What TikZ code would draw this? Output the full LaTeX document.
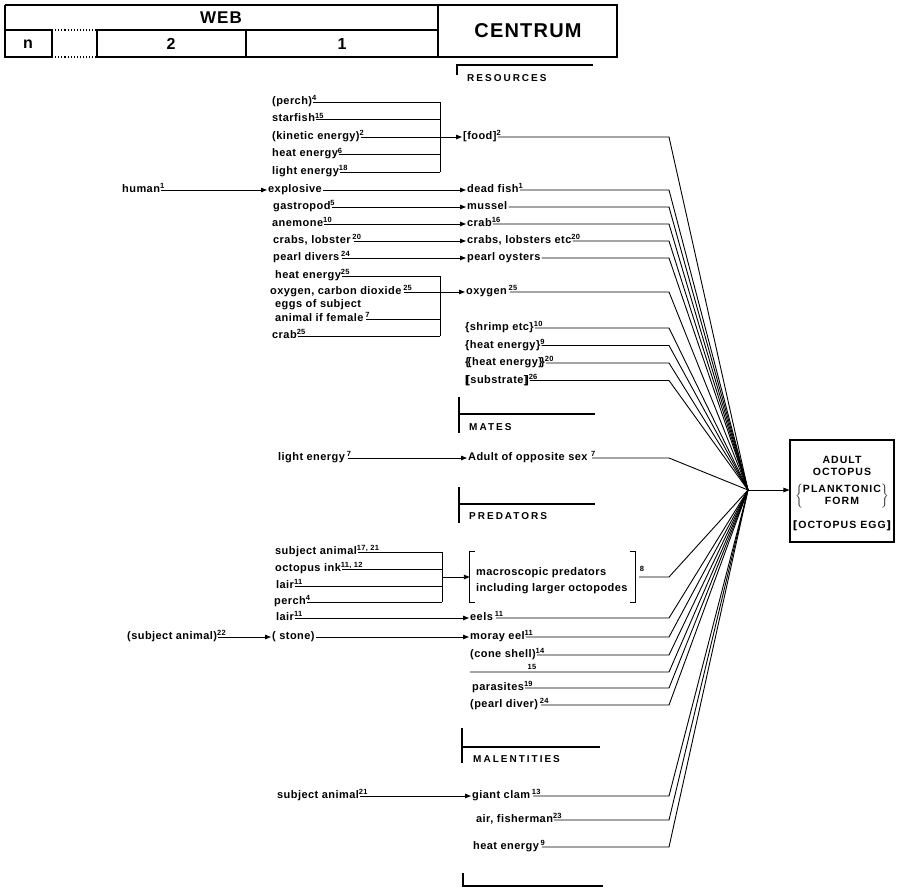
\documentclass[tikz,border=0pt]{standalone}
\usepackage{fontspec}
\setmainfont{Liberation Sans}[LetterSpace=4]
\newfontfamily\capsfont{Liberation Sans}[LetterSpace=20]
\newfontfamily\headfont{Liberation Sans}[LetterSpace=6]
\newfontfamily\boxfont{Liberation Sans}[LetterSpace=10]
\usetikzlibrary{arrows.meta}
\newcommand\sps[1]{\rlap{\raisebox{3.6pt}{\fontsize{7.5}{7.5}\selectfont #1}}}
\begin{document}
\begin{tikzpicture}[x=1pt,y=-1pt,
  lbl/.style={anchor=west, inner sep=1pt, font=\bfseries\fontsize{11}{12}\selectfont, text height=7pt, text depth=2pt},
  capl/.style={anchor=west, inner sep=0pt, font=\capsfont\bfseries\fontsize{10}{11}\selectfont},
  boxt/.style={inner sep=0pt, font=\boxfont\bfseries\fontsize{10.5}{12}\selectfont},
  supn/.style={inner sep=0pt, font=\bfseries\fontsize{7.5}{7.5}\selectfont},
  ln/.style={line width=0.9pt},
  arr/.style={ln,-{Triangle[length=6pt,width=4.5pt]}},
  bar/.style={line width=2pt},
  hd/.style={line width=1.1pt},
  hdtext/.style={font=\headfont\bfseries\fontsize{#1}{#1}\selectfont, inner sep=0pt}
]
\useasboundingbox (0,0) rectangle (898,888);
\fill[white] (0,0) rectangle (898,888);

% ---------- header table ----------
\draw[hd] (5,5) -- (617,5) -- (617,57) -- (97,57);
\draw[hd] (52,57) -- (5,57) -- (5,5);
\draw[hd,dotted] (52,57) -- (97,57);
\draw[hd] (5,30) -- (52,30);
\draw[hd,dotted] (52,30) -- (97,30);
\draw[hd] (97,30) -- (438,30);
\draw[hd] (52,30) -- (52,57);
\draw[hd] (97,30) -- (97,57);
\draw[hd] (246,30) -- (246,57);
\draw[hd] (438,5) -- (438,57);
\node[hdtext=17] (web) at (221,18) {WEB};
\node[hdtext=16] (cn) at (28,44) {n};
\node[hdtext=16] (c2) at (171,44) {2};
\node[hdtext=16] (c1) at (342,44) {1};
\node[hdtext=20] (centrum) at (528,31) {CENTRUM};

% ---------- key coordinates ----------
\coordinate (rx) at (669,0);
\coordinate (hub) at (748,490);
\coordinate (bxA) at (440,0);
\coordinate (bxP) at (442,0);

% ---------- RESOURCES ----------
\draw[bar] (457,75) -- (457,65) -- (593,65);
\node[capl] (res) at (467,78) {RESOURCES};

\node[lbl] (a1) at (271,102) {(perch)\sps{4}};
\node[lbl] (a2) at (271,119.5) {starfish\sps{15}};
\node[lbl] (a3) at (271,137) {(kinetic energy)\sps{2}};
\node[lbl] (a4) at (271,154.5) {heat energy\sps{6}};
\node[lbl] (a5) at (271,172) {light energy\sps{18}};
\foreach \n in {a1,a2,a3,a4,a5} \draw[ln] (\n.east) -- (\n.east -| bxA);
\draw[ln] (a1.east -| bxA) -- (a5.east -| bxA);
\node[lbl] (food) at (462,137) {[food]\sps{2}};
\draw[arr] (a3.east -| bxA) -- (food.west);
\draw[ln] (food.east) -- (food.east -| rx) -- (hub);

\node[lbl] (human) at (121,190) {human\sps{1}};
\node[lbl] (explosive) at (267,190) {explosive};
\node[lbl] (deadfish) at (466,190) {dead fish\sps{1}};
\draw[arr] (human) -- (explosive);
\draw[arr] (explosive) -- (deadfish);
\draw[ln] (deadfish.east) -- (deadfish.east -| rx) -- (hub);

\node[lbl] (gastropod) at (272,207) {gastropod\sps{5}};
\node[lbl] (mussel) at (466,207) {mussel};
\draw[arr] (gastropod) -- (mussel);
\draw[ln] (mussel.east) -- (mussel.east -| rx) -- (hub);

\node[lbl] (anemone) at (271,224) {anemone\sps{10}};
\node[lbl] (crabA) at (466,224) {crab\sps{16}};
\draw[arr] (anemone) -- (crabA);
\draw[ln] (crabA.east) -- (crabA.east -| rx) -- (hub);

\node[lbl] (crabsl) at (272,241) {crabs, lobster\,\sps{20}};
\node[lbl] (crabsetc) at (466,241) {crabs, lobsters etc\sps{20}};
\draw[arr] (crabsl) -- (crabsetc);
\draw[ln] (crabsetc.east) -- (crabsetc.east -| rx) -- (hub);

\node[lbl] (pearld) at (272,258) {pearl divers\,\sps{24}};
\node[lbl] (oysters) at (466,258) {pearl oysters};
\draw[arr] (pearld) -- (oysters);
\draw[ln] (oysters.east) -- (oysters.east -| rx) -- (hub);

\node[lbl] (g1) at (274,276) {heat energy\sps{25}};
\node[lbl] (g2) at (269,292) {oxygen, carbon dioxide\,\sps{25}};
\node[lbl] (g3a) at (274,305) {eggs of subject};
\node[lbl] (g3) at (274,319) {animal if female\,\sps{7}};
\node[lbl] (g4) at (271,336) {crab\sps{25}};
\foreach \n in {g1,g2,g3,g4} \draw[ln] (\n.east) -- (\n.east -| bxA);
\draw[ln] (g1.east -| bxA) -- (g4.east -| bxA);
\node[lbl] (oxygen) at (465,292) {oxygen\,\sps{25}};
\draw[arr] (g2.east -| bxA) -- (oxygen.west);
\draw[ln] (oxygen.east) -- (oxygen.east -| rx) -- (hub);

\node[lbl] (h1) at (464,328) {\{shrimp etc\}\sps{10}};
\node[lbl] (h2) at (464,345.5) {\{heat energy\}\sps{9}};
\node[lbl] (h3) at (464,363) {\{\kern-2pt\{heat energy\}\kern-2pt\}\sps{20}};
\node[lbl] (h4) at (464,380.5) {[\kern-2.5pt[substrate]\kern-2.5pt]\sps{26}};
\foreach \n in {h1,h2,h3,h4} \draw[ln] (\n.east) -- (\n.east -| rx) -- (hub);

% ---------- MATES ----------
\draw[bar] (459,397) -- (459,433);
\draw[bar] (459,414) -- (595,414);
\node[capl] (mates) at (469,427) {MATES};
\node[lbl] (light7) at (277,458) {light energy\,\sps{7}};
\node[lbl] (mate) at (467,458) {Adult of opposite sex\ \sps{7}};
\draw[arr] (light7) -- (mate);
\draw[ln] (mate.east) -- (mate.east -| rx) -- (hub);

% ---------- PREDATORS ----------
\draw[bar] (459,487) -- (459,523);
\draw[bar] (459,504) -- (595,504);
\node[capl] (predators) at (469,516) {PREDATORS};

\node[lbl] (p1) at (274,552) {subject animal\sps{17, 21}};
\node[lbl] (p2) at (274,569) {octopus ink\sps{11, 12}};
\node[lbl] (p3) at (275,586) {lair\sps{11}};
\node[lbl] (p4) at (273,602) {perch\sps{4}};
\foreach \n in {p1,p2,p3,p4} \draw[ln] (\n.east) -- (\n.east -| bxP);
\draw[ln] (p1.east -| bxP) -- (p4.east -| bxP);
\node[minimum width=165pt, minimum height=50pt, inner sep=0pt] (pred) at (552.5,577) {};
\node[anchor=west, inner sep=0pt, font=\bfseries\fontsize{11}{16}\selectfont, align=left] (predtxt) at (476,581) {macroscopic predators\\including larger octopodes};
\node[supn] (pred8) at (642,569) {8};
\draw[ln] ([xshift=5pt]pred.north west) -- (pred.north west) -- (pred.south west) -- ([xshift=5pt]pred.south west);
\draw[ln] ([xshift=-5pt]pred.north east) -- (pred.north east) -- (pred.south east) -- ([xshift=-5pt]pred.south east);
\draw[arr] (bxP |- pred.west) -- (pred.west);
\draw[ln] ([xshift=4pt]pred.east) -- (pred.east -| rx) -- (hub);

\node[lbl] (lair2) at (275,618) {lair\sps{11}};
\node[lbl] (eels) at (469,618) {eels\,\sps{11}};
\draw[arr] (lair2) -- (eels);
\draw[ln] (eels.east) -- (eels.east -| rx) -- (hub);

\node[lbl] (subj22) at (126,637) {(subject animal)\sps{22}};
\node[lbl] (stone) at (271,637) {( stone)};
\node[lbl] (moray) at (469,637) {moray eel\sps{11}};
\draw[arr] (subj22) -- (stone);
\draw[arr] (stone) -- (moray);
\draw[ln] (moray.east) -- (moray.east -| rx) -- (hub);

\node[lbl] (cone) at (469,655) {(cone shell)\sps{14}};
\draw[ln] (cone.east) -- (cone.east -| rx) -- (hub);

\coordinate (c15) at (470,672);
\node[supn] (n15) at (532,667) {15};
\draw[ln] (c15) -- (c15 -| rx) -- (hub);

\node[lbl] (parasites) at (471,688) {parasites\sps{19}};
\draw[ln] (parasites.east) -- (parasites.east -| rx) -- (hub);

\node[lbl] (pearldiver) at (469,705) {(pearl diver)\,\sps{24}};
\draw[ln] (pearldiver.east) -- (pearldiver.east -| rx) -- (hub);

% ---------- MALENTITIES ----------
\draw[bar] (462,728) -- (462,763);
\draw[bar] (462,747) -- (600,747);
\node[capl] (malent) at (473,759) {MALENTITIES};

\node[lbl] (subj21) at (276,796) {subject animal\sps{21}};
\node[lbl] (clam) at (471,796) {giant clam\,\sps{13}};
\draw[arr] (subj21) -- (clam);
\draw[ln] (clam.east) -- (clam.east -| rx) -- (hub);

\node[lbl] (air) at (475,820) {air, fisherman\sps{23}};
\draw[ln] (air.east) -- (air.east -| rx) -- (hub);

\node[lbl] (heat9) at (472,847) {heat energy\,\sps{9}};
\draw[ln] (heat9.east) -- (heat9.east -| rx) -- (hub);

\draw[bar] (463,873) -- (463,886) -- (603,886);

% ---------- result box ----------
\node[draw, line width=1.1pt, minimum width=104pt, minimum height=102pt, inner sep=0pt] (adult) at (842,491) {};
\draw[arr] (hub) -- (adult.west |- hub);
\node[boxt] (bt1) at (842,460) {ADULT};
\node[boxt] (bt2) at (842,472) {OCTOPUS};
\node[boxt] (bt3) at (842,496) {$\left\{\begin{tabular}{@{}c@{}}PLANKTONIC\\FORM\end{tabular}\right\}$};
\node[boxt] (bt4) at (842,526) {[\kern-3pt[OCTOPUS EGG]\kern-3pt]};
\end{tikzpicture}
\end{document}
